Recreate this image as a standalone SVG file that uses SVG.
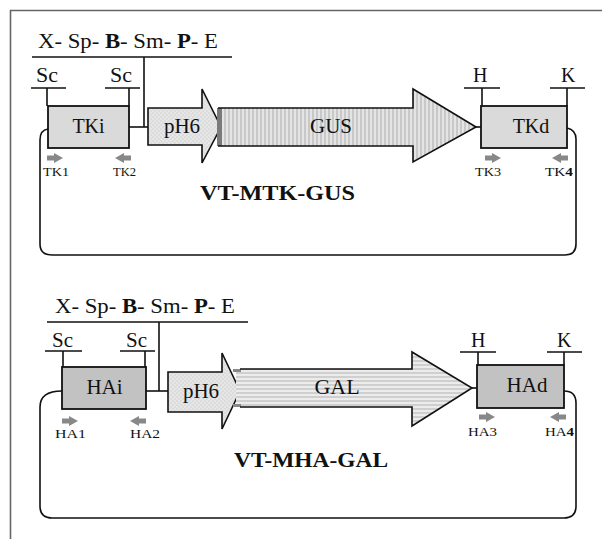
<svg xmlns="http://www.w3.org/2000/svg" width="602" height="539" viewBox="0 0 602 539">
<defs>
<style>
text{font-family:"Liberation Serif","DejaVu Serif","Times New Roman",serif;fill:#111}
.ln{stroke:#111;stroke-width:1.6;fill:none}
.box{stroke:#111;stroke-width:1.8}
.pr{fill:#888}
.lab{font-size:13px}
.big{font-size:20px}
</style>
<pattern id="chk" width="4" height="4" patternUnits="userSpaceOnUse">
<rect width="4" height="4" fill="#e6e6e6"/>
<rect width="2" height="2" fill="#dcdcdc"/>
<rect x="2" y="2" width="2" height="2" fill="#dcdcdc"/>
</pattern>
<pattern id="vst" width="4" height="4" patternUnits="userSpaceOnUse">
<rect width="4" height="4" fill="#e4e4e4"/>
<rect width="2" height="4" fill="#c8c8c8"/>
</pattern>
<pattern id="hst" width="4" height="4" patternUnits="userSpaceOnUse">
<rect width="4" height="4" fill="#ececec"/>
<rect width="4" height="2" fill="#cfcfcf"/>
</pattern>
<g id="pr">
<rect x="0" y="-2.5" width="8" height="5"/>
<path d="M7,-5 L16,0 L7,5 Z"/>
</g>
</defs>
<rect width="602" height="539" fill="#fff"/>
<g id="frame" stroke="#666" stroke-width="1.6" fill="none">
<path d="M10.5,539 L10.5,10.5 L602,10.5"/>
</g>

<!-- TOP CONSTRUCT -->
<g id="connectors-top" class="ln">
<path d="M32,57 L232,57"/>
<path d="M144,57 L144,127"/>
<path d="M129,127 L148,127"/>
<path d="M31,88 L66,88 M47,88 L47,106"/>
<path d="M105,88 L140,88 M129,88 L129,106"/>
<path d="M464,88 L500,88 M482,88 L482,106"/>
<path d="M550,88 L585,88 M567,88 L567,106"/>
<path d="M476,127 L481,127"/>
<path d="M48,129 Q40,130 40,140 L40,244 Q40,255 52,255 L565,255 Q576,255 576,244 L576,139 Q576,130 567,128"/>
</g>
<g id="sites-top">
<text x="38" y="48" font-size="20" textLength="180" lengthAdjust="spacingAndGlyphs">X- Sp- <tspan font-weight="bold">B</tspan>- Sm- <tspan font-weight="bold">P</tspan>- E</text>
<text class="big" x="36" y="82" textLength="22" lengthAdjust="spacingAndGlyphs">Sc</text>
<text class="big" x="110" y="82" textLength="22" lengthAdjust="spacingAndGlyphs">Sc</text>
<text class="big" x="473" y="82">H</text>
<text class="big" x="561" y="82">K</text>
</g>
<g id="TKi">
<rect class="box" x="48" y="106" width="81" height="42" fill="#dadada"/>
<text class="big" x="88.5" y="133" text-anchor="middle">TKi</text>
</g>
<g id="pH6-top">
<path d="M148,108 L202,108 L202,89 L221,127 L202,163 L202,145 L148,145 Z" fill="url(#chk)" stroke="#111" stroke-width="1.6"/>
<text x="182" y="133" font-size="21" text-anchor="middle">pH6</text>
</g>
<g id="GUS">
<path d="M218,108 L413,108 L413,89 L476,127 L413,162 L413,146 L218,146 Z" fill="url(#vst)"/>
<rect x="217" y="108" width="5" height="38" fill="#7a7a7a"/>
<path d="M218,108 L413,108 L413,89 L476,127 L413,162 L413,146 L218,146" class="ln"/>
<text x="331" y="133" font-size="21" text-anchor="middle">GUS</text>
</g>
<g id="TKd">
<rect class="box" x="481" y="106" width="86" height="42" fill="#dadada"/>
<text class="big" x="531" y="133" text-anchor="middle">TKd</text>
</g>
<g id="label-top">
<text x="200" y="200" font-size="20" font-weight="bold" textLength="155" lengthAdjust="spacingAndGlyphs">VT-MTK-GUS</text>
</g>
<g id="primers-top" class="pr">
<use href="#pr" transform="translate(47,158)"/>
<use href="#pr" transform="translate(131,158) scale(-1,1)"/>
<use href="#pr" transform="translate(485,158)"/>
<use href="#pr" transform="translate(568,158) scale(-1,1)"/>
</g>
<g id="primer-labels-top">
<text class="lab" x="43" y="176" textLength="26" lengthAdjust="spacingAndGlyphs">TK1</text>
<text class="lab" x="113" y="176" textLength="23" lengthAdjust="spacingAndGlyphs">TK2</text>
<text class="lab" x="475" y="176" textLength="26" lengthAdjust="spacingAndGlyphs">TK3</text>
<text class="lab" x="545" y="176" textLength="28" lengthAdjust="spacingAndGlyphs">TK<tspan font-weight="bold">4</tspan></text>
</g>

<!-- BOTTOM CONSTRUCT -->
<g id="connectors-bottom" class="ln">
<path d="M47,322 L248,322"/>
<path d="M159,322 L159,391"/>
<path d="M146,391 L168,391"/>
<path d="M45,351 L82,351 M63,351 L63,367"/>
<path d="M120,351 L155,351 M145,351 L145,367"/>
<path d="M460,352 L496,352 M478,352 L478,365"/>
<path d="M547,352 L582,352 M564,352 L564,365"/>
<path d="M472,388 L477,388"/>
<path d="M62,391 Q40,391 40,407 L40,506 Q40,518 52,518 L564,518 Q576,518 576,506 L576,403 Q576,391 564,391"/>
</g>
<g id="sites-bottom">
<text x="55" y="313" font-size="20" textLength="180" lengthAdjust="spacingAndGlyphs">X- Sp- <tspan font-weight="bold">B</tspan>- Sm- <tspan font-weight="bold">P</tspan>- E</text>
<text class="big" x="52" y="347" textLength="21" lengthAdjust="spacingAndGlyphs">Sc</text>
<text class="big" x="126" y="347" textLength="21" lengthAdjust="spacingAndGlyphs">Sc</text>
<text class="big" x="471" y="347">H</text>
<text class="big" x="557" y="347">K</text>
</g>
<g id="HAi">
<rect class="box" x="62" y="367" width="84" height="42" fill="#c2c2c2"/>
<text x="104.5" y="394" font-size="21" text-anchor="middle">HAi</text>
</g>
<g id="pH6-bottom">
<path d="M168,372 L222,372 L222,353 L240,391 L222,429 L222,412 L168,412 Z" fill="url(#chk)" stroke="#111" stroke-width="1.6"/>
<text x="201" y="398" font-size="21" text-anchor="middle">pH6</text>
</g>
<g id="GAL">
<path d="M236,369 L412,369 L412,352 L472,388 L412,426 L412,407 L236,407 Z" fill="url(#hst)"/>
<rect x="233" y="369" width="8" height="3" fill="#888"/>
<rect x="233" y="404" width="8" height="3" fill="#888"/>
<path d="M240,369 L412,369 L412,352 L472,388 L412,426 L412,407 L240,407" class="ln"/>
<text x="337" y="394" font-size="22" text-anchor="middle">GAL</text>
</g>
<g id="HAd">
<rect class="box" x="477" y="365" width="87" height="43" fill="#c2c2c2"/>
<text x="527" y="392" font-size="21" text-anchor="middle">HAd</text>
</g>
<g id="label-bottom">
<text x="234" y="467" font-size="20" font-weight="bold" textLength="154" lengthAdjust="spacingAndGlyphs">VT-MHA-GAL</text>
</g>
<g id="primers-bottom" class="pr">
<use href="#pr" transform="translate(62,421)"/>
<use href="#pr" transform="translate(146,421) scale(-1,1)"/>
<use href="#pr" transform="translate(479,417)"/>
<use href="#pr" transform="translate(566,417) scale(-1,1)"/>
</g>
<g id="primer-labels-bottom">
<text class="lab" x="55" y="438" textLength="31" lengthAdjust="spacingAndGlyphs">HA1</text>
<text class="lab" x="130" y="438" textLength="30" lengthAdjust="spacingAndGlyphs">HA2</text>
<text class="lab" x="468" y="436" textLength="29" lengthAdjust="spacingAndGlyphs">HA3</text>
<text class="lab" x="545" y="436" textLength="29" lengthAdjust="spacingAndGlyphs">HA<tspan font-weight="bold">4</tspan></text>
</g>
</svg>
